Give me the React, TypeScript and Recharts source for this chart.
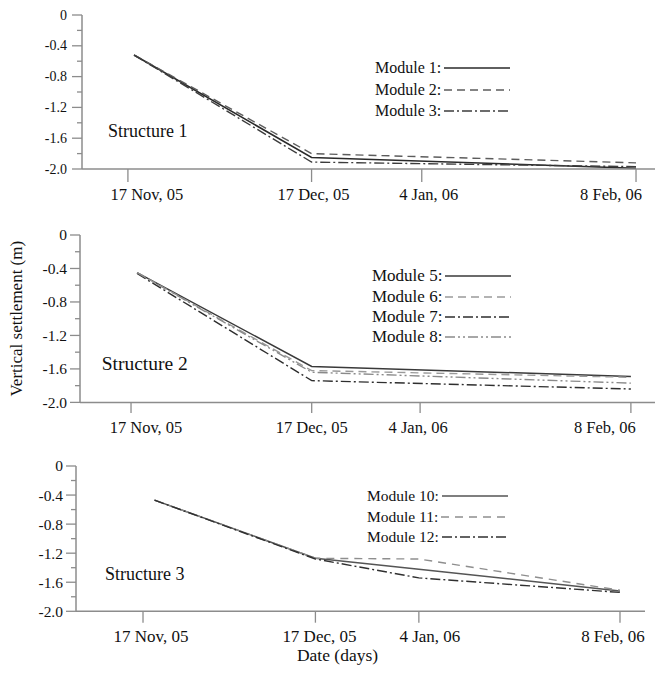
import { LineChart, Line, XAxis, YAxis, Legend, Label } from "recharts";

// x values are days counted from 17 Nov 2005
const tickDays = [0, 30, 48, 83];
const tickLabels = ["17 Nov, 05", "17 Dec, 05", "4 Jan, 06", "8 Feb, 06"];
const yTicks = [0, -0.2, -0.4, -0.6, -0.8, -1.0, -1.2, -1.4, -1.6, -1.8, -2.0];

// Structure 1
const days1 = [1, 30, 83];
const module1 = [-0.52, -1.85, -1.99];
const module2 = [-0.52, -1.8, -1.92];
const module3 = [-0.52, -1.91, -1.97];

// Structure 2
const days2 = [1, 30, 83];
const module5 = [-0.45, -1.57, -1.69];
const module6 = [-0.45, -1.62, -1.7];
const module7 = [-0.46, -1.74, -1.84];
const module8 = [-0.45, -1.64, -1.77];

// Structure 3
const days3 = [2, 30, 48, 83];
const module10 = [-0.47, -1.27, -1.42, -1.72];
const module11 = [-0.47, -1.27, -1.28, -1.71];
const module12 = [-0.47, -1.28, -1.54, -1.74];

const AXIS = "#8c8c8c";
const INK = "#111111";
const SERIF = "'Liberation Serif', serif";

function buildRows(days: number[], cols: Record<string, number[]>) {
  return days.map((day, i) => {
    const row: Record<string, number> = { day };
    Object.keys(cols).forEach((k) => {
      row[k] = cols[k][i];
    });
    return row;
  });
}

const panels = [
  {
    id: "s1",
    rows: buildRows(days1, { m1: module1, m2: module2, m3: module3 }),
    series: [
      { key: "m1", name: "Module 1:", stroke: "#2a2a2a", dash: undefined, width: 1.6 },
      { key: "m2", name: "Module 2:", stroke: "#5c5c5c", dash: "8 5", width: 1.4 },
      { key: "m3", name: "Module 3:", stroke: "#3c3c3c", dash: "10 3 2 3", width: 1.4 },
    ],
    structure: "Structure 1",
    plotTop: 14.7,
    plotH: 154,
    yW: 82,
    right: 0,
    xDomain: [-7.5, 86.1],
    xAxisH: 45,
    yFont: 14,
    yGap: 5,
    xFont: 16.5,
    xTickSize: 13,
    xTickMargin: 6,
    xLabelDx: [19, 2, 7, -25],
    legend: { left: 375, firstY: 68.5, rowH: 21.5, font: 16 },
    label: { x: 108, y: 131.7, font: 18 },
  },
  {
    id: "s2",
    rows: buildRows(days2, { m5: module5, m6: module6, m7: module7, m8: module8 }),
    series: [
      { key: "m5", name: "Module 5:", stroke: "#3a3a3a", dash: undefined, width: 1.5 },
      { key: "m6", name: "Module 6:", stroke: "#9a9a9a", dash: "8 5", width: 1.4 },
      { key: "m7", name: "Module 7:", stroke: "#2e2e2e", dash: "10 3 2 3", width: 1.4 },
      { key: "m8", name: "Module 8:", stroke: "#8a8a8a", dash: "10 3 2 3 2 3", width: 1.4 },
    ],
    structure: "Structure 2",
    plotTop: 235.3,
    plotH: 167.4,
    yW: 80,
    right: 0,
    xDomain: [-8.47, 87.0],
    xAxisH: 45,
    yFont: 15.5,
    yGap: 3,
    xFont: 16.5,
    xTickSize: 10.6,
    xTickMargin: 8,
    xLabelDx: [15, 0, -2, -26],
    legend: { left: 372, firstY: 276.5, rowH: 20.2, font: 17 },
    label: { x: 101.7, y: 363.3, font: 19.5 },
    yTitle: "Vertical settlement (m)",
  },
  {
    id: "s3",
    rows: buildRows(days3, { m10: module10, m11: module11, m12: module12 }),
    series: [
      { key: "m10", name: "Module 10:", stroke: "#555555", dash: undefined, width: 1.5 },
      { key: "m11", name: "Module 11:", stroke: "#8e8e8e", dash: "8 6", width: 1.4 },
      { key: "m12", name: "Module 12:", stroke: "#303030", dash: "10 3 2 3", width: 1.4 },
    ],
    structure: "Structure 3",
    plotTop: 466,
    plotH: 145.3,
    yW: 76,
    right: 10,
    xDomain: [-11.66, 87.35],
    xAxisH: 60,
    yFont: 15.5,
    yGap: 3,
    xFont: 17,
    xTickSize: 11.4,
    xTickMargin: 7,
    xLabelDx: [8, 4, 11, -7],
    legend: { left: 367, firstY: 496.5, rowH: 20.2, font: 15.5 },
    label: { x: 105, y: 575, font: 18 },
    xTitle: "Date (days)",
  },
];

type PanelCfg = (typeof panels)[number] & { yTitle?: string; xTitle?: string };

function XTick(props: any) {
  const { x, y, payload, p } = props;
  const i = tickDays.indexOf(payload.value);
  return (
    <text
      x={x + p.xLabelDx[i]}
      y={y}
      dy="0.71em"
      textAnchor="middle"
      fontSize={p.xFont}
      fontFamily={SERIF}
      fill={INK}
    >
      {tickLabels[i]}
    </text>
  );
}

function YTick(props: any) {
  const { x, y, payload, p } = props;
  const v = payload.value as number;
  const major = Math.round(v * 10) % 4 === 0;
  const len = major ? 10 : 5;
  return (
    <g>
      <line x1={x - len} x2={x} y1={y} y2={y} stroke={AXIS} strokeWidth={1.3} />
      {major && (
        <text
          x={x - len - p.yGap}
          y={y}
          textAnchor="end"
          dominantBaseline="central"
          fontSize={p.yFont}
          fontFamily={SERIF}
          fill={INK}
        >
          {v === 0 ? "0" : v.toFixed(1)}
        </text>
      )}
    </g>
  );
}

function Panel({ p }: { p: PanelCfg }) {
  const chartTop = p.plotTop - 10;
  const height = 10 + p.plotH + p.xAxisH;
  const midY = 10 + p.plotH / 2;
  return (
    <div style={{ position: "absolute", left: 0, top: chartTop, width: 655, height }}>
      <LineChart
        width={655}
        height={height}
        data={p.rows}
        margin={{ top: 10, right: p.right, bottom: 0, left: 0 }}
      >
        <XAxis
          dataKey="day"
          type="number"
          domain={p.xDomain}
          ticks={tickDays}
          interval={0}
          allowDataOverflow
          height={p.xAxisH}
          stroke={AXIS}
          axisLine={{ stroke: AXIS, strokeWidth: 1.5 }}
          tickLine={{ stroke: AXIS, strokeWidth: 1.3 }}
          tickSize={p.xTickSize}
          tickMargin={p.xTickMargin}
          tick={(t: any) => <XTick {...t} p={p} />}
        >
          {p.xTitle && (
            <Label
              value={p.xTitle}
              position="insideBottom"
              offset={10}
              dx={-23}
              fontSize={17.5}
              fontFamily={SERIF}
              fill={INK}
            />
          )}
        </XAxis>
        <YAxis
          type="number"
          domain={[-2, 0]}
          ticks={yTicks}
          interval={0}
          width={p.yW}
          allowDataOverflow
          axisLine={{ stroke: AXIS, strokeWidth: 1.5 }}
          tickLine={false}
          tickSize={0}
          tickMargin={0}
          tick={(t: any) => <YTick {...t} p={p} />}
        >
          {p.yTitle && (
            <Label
              content={() => (
                <text
                  x={16}
                  y={midY}
                  transform={`rotate(-90 16 ${midY})`}
                  textAnchor="middle"
                  dominantBaseline="central"
                  fontSize={17}
                  fontFamily={SERIF}
                  fill={INK}
                >
                  {p.yTitle}
                </text>
              )}
            />
          )}
        </YAxis>
        <Legend
          layout="vertical"
          align="center"
          verticalAlign="middle"
          wrapperStyle={{
            left: p.legend.left,
            top: p.legend.firstY - p.legend.rowH / 2 - chartTop,
            width: "auto",
          }}
          content={() => (
            <div style={{ fontFamily: SERIF, fontSize: p.legend.font, color: INK }}>
              {p.series.map((s) => (
                <div
                  key={s.key}
                  style={{
                    height: p.legend.rowH,
                    display: "flex",
                    alignItems: "center",
                    whiteSpace: "nowrap",
                  }}
                >
                  <span>{s.name}</span>
                  <svg width={66} height={6} style={{ marginLeft: 3 }}>
                    <line
                      x1={0}
                      x2={66}
                      y1={3}
                      y2={3}
                      stroke={s.stroke}
                      strokeWidth={s.width}
                      strokeDasharray={s.dash}
                    />
                  </svg>
                </div>
              ))}
            </div>
          )}
        />
        {p.series.map((s) => (
          <Line
            key={s.key}
            dataKey={s.key}
            name={s.name}
            type="linear"
            stroke={s.stroke}
            strokeWidth={s.width}
            strokeDasharray={s.dash}
            dot={false}
            activeDot={false}
            isAnimationActive={false}
          />
        ))}
      </LineChart>
      <div
        style={{
          position: "absolute",
          left: p.label.x,
          top: p.label.y - chartTop - p.label.font * 0.6,
          fontFamily: SERIF,
          fontSize: p.label.font,
          lineHeight: 1.2,
          color: INK,
          whiteSpace: "nowrap",
        }}
      >
        {p.structure}
      </div>
    </div>
  );
}

export default function App() {
  return (
    <div
      style={{
        position: "absolute",
        left: 0,
        top: 0,
        width: 655,
        height: 678,
        background: "#fff",
        overflow: "hidden",
      }}
    >
      {panels.map((p) => (
        <Panel key={p.id} p={p as PanelCfg} />
      ))}
    </div>
  );
}
